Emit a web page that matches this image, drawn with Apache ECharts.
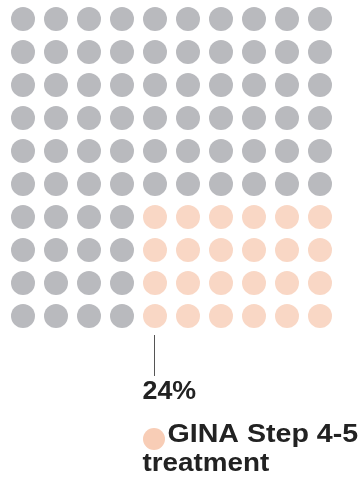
<!DOCTYPE html>
<html>
<head>
<meta charset="utf-8">
<script src="https://cdn.jsdelivr.net/npm/echarts@6/dist/echarts.min.js"></script>
<style>html,body{margin:0;padding:0;background:#fff;}#c{width:364px;height:482px;}</style>
</head>
<body>
<div id="c"></div>
<script>
// Waffle grid: each string is a row (top to bottom); 'O' = other, 'G' = GINA Step 4-5 treatment
const waffleRows = [
  'OOOOOOOOOO',
  'OOOOOOOOOO',
  'OOOOOOOOOO',
  'OOOOOOOOOO',
  'OOOOOOOOOO',
  'OOOOOOOOOO',
  'OOOOGGGGGG',
  'OOOOGGGGGG',
  'OOOOGGGGGG',
  'OOOOGGGGGG'
];
const seriesNames = ['Other', 'GINA Step 4-5 treatment'];
const seriesCodes = ['O', 'G'];
const shareLabel = '24%';
const legendLines = ['GINA Step 4-5', 'treatment'];

const colors = ['#a8a9ae', '#f8cdb6'];
const chart = echarts.init(document.getElementById('c'), null, {renderer: 'canvas'});

const series = seriesCodes.map((code, si) => {
  const data = [];
  waffleRows.forEach((row, r) => {
    row.split('').forEach((ch, c) => {
      if (ch === code) data.push([c + 1, r + 1]);
    });
  });
  return {
    name: seriesNames[si],
    type: 'scatter',
    symbol: 'circle',
    symbolSize: 24,
    itemStyle: {color: colors[si]},
    silent: true,
    data
  };
});

const font = '"Liberation Sans", Arial, sans-serif';
chart.setOption({
  animation: false,
  grid: {left: 6.5, top: 2.5, width: 330, height: 330},
  xAxis: {type: 'value', min: 0.5, max: 10.5, show: false},
  yAxis: {type: 'value', min: 0.5, max: 10.5, inverse: true, show: false},
  series,
  graphic: [
    {type: 'line', shape: {x1: 154.5, y1: 335, x2: 154.5, y2: 376}, style: {stroke: '#555', lineWidth: 1}},
    {type: 'text', x: 142.5, y: 392, scaleX: 1.03, style: {x: 0, y: 0, text: shareLabel, fill: '#222', font: 'bold 26px ' + font, verticalAlign: 'middle'}},
    {type: 'circle', shape: {cx: 154, cy: 439, r: 11}, style: {fill: colors[1]}},
    {type: 'text', x: 167.5, y: 434.5, scaleX: 1.1, style: {x: 0, y: 0, text: legendLines[0], fill: '#222', font: 'bold 26px ' + font, verticalAlign: 'middle'}},
    {type: 'text', x: 142.5, y: 464, scaleX: 1.07, style: {x: 0, y: 0, text: legendLines[1], fill: '#222', font: 'bold 26px ' + font, verticalAlign: 'middle'}}
  ]
});
</script>
</body>
</html>
